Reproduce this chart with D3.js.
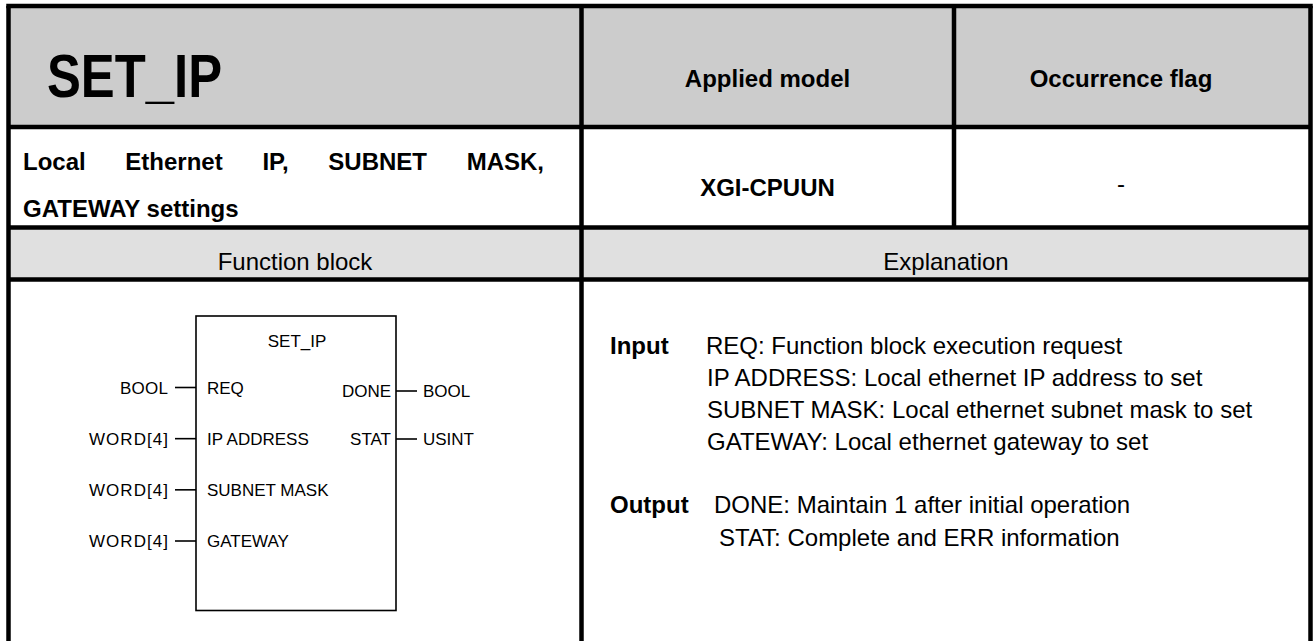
<!DOCTYPE html>
<html>
<head>
<meta charset="utf-8">
<script src="https://cdn.jsdelivr.net/npm/d3@7/dist/d3.min.js"></script>
<style>
  html, body { margin: 0; padding: 0; background: #ffffff; }
  svg { display: block; }
  text { font-family: "Liberation Sans", Arial, sans-serif; fill: #000; }
</style>
</head>
<body>
<svg id="chart" width="1315" height="641"></svg>
<script>
// ---- data ----
const title = "SET_IP";
const headerLabels = ["Applied model", "Occurrence flag"];
const descriptionWords = ["Local", "Ethernet", "IP,", "SUBNET", "MASK,"];
const descriptionLine2 = "GATEWAY settings";
const rowValues = ["XGI-CPUUN", "-"];
const sectionLabels = ["Function block", "Explanation"];
const inputPorts = ["REQ", "IP ADDRESS", "SUBNET MASK", "GATEWAY"];
const inputTypes = ["BOOL", "WORD[4]", "WORD[4]", "WORD[4]"];
const outputPorts = ["DONE", "STAT"];
const outputTypes = ["BOOL", "USINT"];
const inputDescriptions = [
  "REQ: Function block execution request",
  "IP ADDRESS: Local ethernet IP address to set",
  "SUBNET MASK: Local ethernet subnet mask to set",
  "GATEWAY: Local ethernet gateway to set"
];
const outputDescriptions = [
  "DONE: Maintain 1 after initial operation",
  "STAT: Complete and ERR information"
];
const groupLabels = ["Input", "Output"];

// ---- layout ----
const svg = d3.select("#chart");
const W = 1315, H = 641;
const xL = 8.5, xR = 1310.5, xC1 = 581.5, xC2 = 954;
const yTop = 6, yH = 127, yR2 = 227.5, yR3 = 279.5;
const lw = 4.5;

// scales for table columns / rows
const colX = d3.scaleOrdinal().domain(["c1","c2","c3"]).range([ (xL+xC1)/2, 767.5, 1121 ]);

// backgrounds
svg.append("rect").attr("x", xL).attr("y", yTop).attr("width", xR - xL).attr("height", yH - yTop).attr("fill", "#cccccc");
svg.append("rect").attr("x", xL).attr("y", yR2).attr("width", xR - xL).attr("height", yR3 - yR2).attr("fill", "#e0e0e0");

// grid lines
const hLines = [[xL - lw/2, xR + lw/2, yTop], [xL, xR, yH], [xL, xR, yR2], [xL, xR, yR3]];
svg.selectAll("line.h").data(hLines).join("line").attr("class","h")
  .attr("x1", d => d[0]).attr("x2", d => d[1]).attr("y1", d => d[2]).attr("y2", d => d[2])
  .attr("stroke", "#000").attr("stroke-width", lw);
const vLines = [[xL, yTop, H + 5], [xR, yTop, H + 5], [xC1, yTop, H + 5], [xC2, yTop, yR2]];
svg.selectAll("line.v").data(vLines).join("line").attr("class","v")
  .attr("x1", d => d[0]).attr("x2", d => d[0]).attr("y1", d => d[1]).attr("y2", d => d[2])
  .attr("stroke", "#000").attr("stroke-width", lw);

// header
svg.append("text").attr("x", 47).attr("y", 97)
  .attr("font-size", 62).attr("font-weight", "bold")
  .attr("textLength", 175).attr("lengthAdjust", "spacingAndGlyphs")
  .text(title);
svg.selectAll("text.hdr").data(headerLabels).join("text").attr("class","hdr")
  .attr("x", (d, i) => colX(["c2","c3"][i])).attr("y", 87)
  .attr("text-anchor", "middle").attr("font-size", 24).attr("font-weight", "bold")
  .text(d => d);

// row 2: justified description
const descG = svg.append("g");
const words = descG.selectAll("text").data(descriptionWords).join("text")
  .attr("y", 170).attr("font-size", 24).attr("font-weight", "bold").text(d => d);
const widths = [];
words.each(function() { widths.push(this.getComputedTextLength()); });
const jStart = 23, jEnd = 544;
const gap = (jEnd - jStart - d3.sum(widths)) / (descriptionWords.length - 1);
let cx = jStart;
words.attr("x", (d, i) => { const x = cx; cx += widths[i] + gap; return x; });
svg.append("text").attr("x", 23).attr("y", 217).attr("font-size", 24).attr("font-weight", "bold").text(descriptionLine2);

svg.selectAll("text.val").data(rowValues).join("text").attr("class","val")
  .attr("x", (d, i) => colX(["c2","c3"][i])).attr("y", (d, i) => i === 0 ? 196 : 192)
  .attr("text-anchor", "middle").attr("font-size", 24).attr("font-weight", d => d === "-" ? "normal" : "bold")
  .text(d => d);

// row 3 section labels
svg.selectAll("text.sec").data(sectionLabels).join("text").attr("class","sec")
  .attr("x", (d, i) => i === 0 ? (xL + xC1) / 2 : (xC1 + xR) / 2).attr("y", 270)
  .attr("text-anchor", "middle").attr("font-size", 24).text(d => d);

// ---- function block diagram ----
const box = { x0: 196, x1: 396, y0: 316, y1: 610.5 };
const fb = svg.append("g");
fb.append("rect").attr("x", box.x0).attr("y", box.y0).attr("width", box.x1 - box.x0).attr("height", box.y1 - box.y0)
  .attr("fill", "none").attr("stroke", "#000").attr("stroke-width", 1.6);
fb.append("text").attr("x", (box.x0 + box.x1) / 2 + 1).attr("y", 346.5).attr("text-anchor", "middle")
  .attr("font-size", 17).text(title);

const yIn = d3.scaleLinear().domain([0, inputPorts.length - 1]).range([387.5, 541]);
const yOut = d3.scaleLinear().domain([0, outputPorts.length - 1]).range([391, 439]);
const pinLen = 21, fs = 17, base = 6.3;

const inG = fb.selectAll("g.in").data(inputPorts).join("g").attr("class","in");
inG.append("line").attr("x1", box.x0 - pinLen).attr("x2", box.x0)
  .attr("y1", (d, i) => yIn(i)).attr("y2", (d, i) => yIn(i)).attr("stroke", "#000").attr("stroke-width", 1.6);
inG.append("text").attr("x", box.x0 + 11).attr("y", (d, i) => yIn(i) + base).attr("font-size", fs).text(d => d);
inG.append("text").attr("x", 168).attr("y", (d, i) => yIn(i) + base).attr("text-anchor", "end")
  .attr("font-size", fs)
  .attr("textLength", (d, i) => inputTypes[i] === "BOOL" ? 48 : 79).attr("lengthAdjust", "spacing")
  .text((d, i) => inputTypes[i]);

const outG = fb.selectAll("g.out").data(outputPorts).join("g").attr("class","out");
outG.append("line").attr("x1", box.x1).attr("x2", box.x1 + pinLen)
  .attr("y1", (d, i) => yOut(i)).attr("y2", (d, i) => yOut(i)).attr("stroke", "#000").attr("stroke-width", 1.6);
outG.append("text").attr("x", box.x1 - 5).attr("y", (d, i) => yOut(i) + base).attr("text-anchor", "end")
  .attr("font-size", fs).text(d => d);
outG.append("text").attr("x", box.x1 + 27).attr("y", (d, i) => yOut(i) + base)
  .attr("font-size", fs).text((d, i) => outputTypes[i]);

// ---- explanation ----
const ex = svg.append("g");
const yInDesc = d3.scaleLinear().domain([0, inputDescriptions.length - 1]).range([354, 450]);
const yOutDesc = d3.scaleLinear().domain([0, outputDescriptions.length - 1]).range([513, 546]);
ex.selectAll("text.grp").data(groupLabels).join("text").attr("class","grp")
  .attr("x", 610).attr("y", (d, i) => i === 0 ? yInDesc(0) : yOutDesc(0))
  .attr("font-size", 24).attr("font-weight", "bold").text(d => d);
ex.selectAll("text.ind").data(inputDescriptions).join("text").attr("class","ind")
  .attr("x", (d, i) => i === 0 ? 706 : 707).attr("y", (d, i) => yInDesc(i))
  .attr("font-size", 24).text(d => d);
ex.selectAll("text.outd").data(outputDescriptions).join("text").attr("class","outd")
  .attr("x", (d, i) => i === 0 ? 714 : 719).attr("y", (d, i) => yOutDesc(i))
  .attr("font-size", 24).text(d => d);
</script>
</body>
</html>
